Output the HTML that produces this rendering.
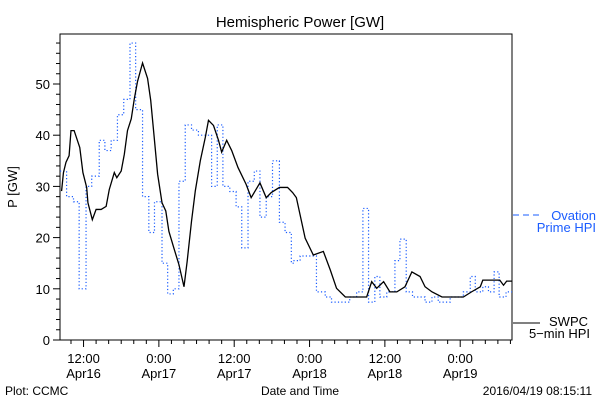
<!DOCTYPE html>
<html><head><meta charset="utf-8"><style>
body{margin:0;background:#fff;}
svg{display:block;font-family:"Liberation Sans",sans-serif;}
</style></head><body>
<svg id="chart" width="600" height="400" viewBox="0 0 600 400">
<rect width="600" height="400" fill="#fff"/>
<text x="300" y="27" text-anchor="middle" font-size="15">Hemispheric Power [GW]</text>
<rect x="60" y="34" width="452" height="306" fill="none" stroke="#000" stroke-width="1"/>
<g id="yaxis"></g>
<g id="xaxis"></g>
<text transform="translate(17,187) rotate(-90)" text-anchor="middle" font-size="13">P [GW]</text>
<text x="300" y="395" text-anchor="middle" font-size="12">Date and Time</text>
<text x="5" y="395" font-size="12">Plot: CCMC</text>
<text x="592" y="395" text-anchor="end" font-size="12">2016/04/19 08:15:11</text>
<g>
<line x1="513" y1="215" x2="540" y2="215" stroke="#1a5cff" stroke-dasharray="6,4"/>
<text x="596" y="220" text-anchor="end" font-size="13" fill="#1a5cff">Ovation</text>
<text x="596" y="232" text-anchor="end" font-size="13" fill="#1a5cff">Prime HPI</text>
</g>
<g>
<line x1="513" y1="323" x2="540" y2="323" stroke="#000"/>
<text x="588" y="326" text-anchor="end" font-size="13">SWPC</text>
<text x="590" y="338" text-anchor="end" font-size="13">5−min HPI</text>
</g>
<g id="series"></g>
</svg>
<script>
// hours since 2016-04-16 00:00
const swpcHours = [8.5,8.8,9.2,9.7,10.0,10.5,11.4,11.9,12.5,12.7,13.4,14.0,14.8,15.6,16.1,16.9,17.3,18.0,18.5,19.0,19.6,20.1,20.6,21.4,22.2,22.7,23.2,23.8,24.5,25.1,25.6,26.4,27.2,28.0,28.5,29.2,29.8,30.6,31.4,31.9,32.7,33.5,34.0,34.8,35.6,36.6,37.9,38.7,40.1,41.1,41.9,43.2,44.5,45.3,45.9,47.3,48.6,50.2,51.3,52.3,53.7,57.1,57.9,58.7,59.8,60.8,61.9,63.2,64.3,65.6,66.4,67.5,69.1,72.5,73.8,75.2,75.6,78.3,78.9,79.4,80.25];
const swpcValues = [29.1,32.7,34.7,36,40.9,40.9,37.6,32.7,29.8,26.8,23.5,25.5,25.5,26.1,29.4,32.7,31.7,33,36.3,40.9,43.2,47.2,50.5,54.1,51.1,46.8,40.3,32.4,26.8,25.2,21.2,17.9,14.7,10.4,15.3,23.2,29.1,35,39.6,42.9,41.9,39,36.7,39,37,33.7,30.4,27.8,30.7,27.8,28.8,29.8,29.8,28.8,27.8,19.9,16.6,17.3,13.7,10.1,8.4,8.4,11.4,10.1,11.4,9.4,9.4,10.4,13.3,12.4,10.4,9.4,8.4,8.4,9.4,10.4,11.7,11.7,10.7,11.5,11.5];
const ovStepStart = [8.25,9.3,10.4,11.3,12.4,13.3,14.5,15.4,16.4,17.4,18.4,19.4,20.3,21.4,22.4,23.3,24.5,25.4,26.3,27.2,28.2,29.2,30.3,31.4,32.4,33.3,34.2,35.3,36.3,37.2,38.2,39.2,40.1,41.1,42.1,43.2,44.1,45.1,45.4,46.5,49.1,50.5,51.5,54.4,55.5,56.5,57.4,58.4,59.2,60.3,61.6,62.4,63.4,64.4,66.4,67.5,68.5,70.4,72.5,73.6,74.4,75.6,76.5,77.4,78.2,79.3];
const ovValues = [33,28,27,10,30,32,39,37,39,44,47,58,45,28,21,27,15,9,10,31,42,41,40,40,30,42,30,29,26,18,31,33,24,28,35,23,21,15,15.5,16.4,9.4,8.4,7.4,8.4,9.4,25.7,7.4,12.4,8.4,9.4,15.5,19.7,9.4,8.4,7.4,8.4,7.4,8.4,9.4,12.4,9.4,10.4,9.4,13.3,8.4,9.4];
const yTicks = [0,10,20,30,40,50];
const xMajorHours = [12,24,36,48,60,72];
const xLabel1 = ["12:00","0:00","12:00","0:00","12:00","0:00"];
const xLabel2 = ["Apr16","Apr17","Apr17","Apr18","Apr18","Apr19"];
const hMin = 8.25, hMax = 80.25;
const X = h => 60 + (h - hMin) * 452 / (hMax - hMin);
const Y = v => 340 - v * 5.12;
const NS = "http://www.w3.org/2000/svg";
function mk(tag, attrs, parent){const e=document.createElementNS(NS,tag);for(const k in attrs)e.setAttribute(k,attrs[k]);parent.appendChild(e);return e;}
const ya = document.getElementById('yaxis');
for(let v=0; v<=58; v+=2){
  const major = v%10===0;
  const t = mk('line',{x1:major?53:56,x2:60,y1:Y(v),y2:Y(v),stroke:'#000'},ya);
  
  
}
yTicks.forEach(v=>{
  const t = mk('text',{x:50,y:Y(v)+5,'text-anchor':'end','font-size':13},ya);
  t.textContent = v;
  
  
});
const xa = document.getElementById('xaxis');
for(let h=10; h<=80; h+=2){
  const major = h%12===0;
  const t = mk('line',{x1:X(h),x2:X(h),y1:340,y2:major?347:344,stroke:'#000'},xa);
  
  
}
xMajorHours.forEach((h,i)=>{
  const a = mk('text',{x:X(h),y:363,'text-anchor':'middle','font-size':13},xa);
  a.textContent = xLabel1[i];
  
  
  const b = mk('text',{x:X(h),y:378,'text-anchor':'middle','font-size':13},xa);
  b.textContent = xLabel2[i];
  
  
});
const sg = document.getElementById('series');
let d = '';
ovStepStart.forEach((h,i)=>{
  const end = i+1<ovStepStart.length ? ovStepStart[i+1] : hMax;
  d += (i===0?'M':'L') + X(h) + ',' + Y(ovValues[i]) + 'L' + X(end) + ',' + Y(ovValues[i]);
});
const ov = mk('path',{d:d,fill:'none',stroke:'#1a5cff','stroke-width':1.2,'stroke-dasharray':'1.2,2.2'},sg);


const sd = swpcHours.map((h,i)=>(i?'L':'M')+X(h)+','+Y(swpcValues[i])).join('');
const sw = mk('path',{d:sd,fill:'none',stroke:'#000','stroke-width':1.3},sg);


</script>
</body></html>
